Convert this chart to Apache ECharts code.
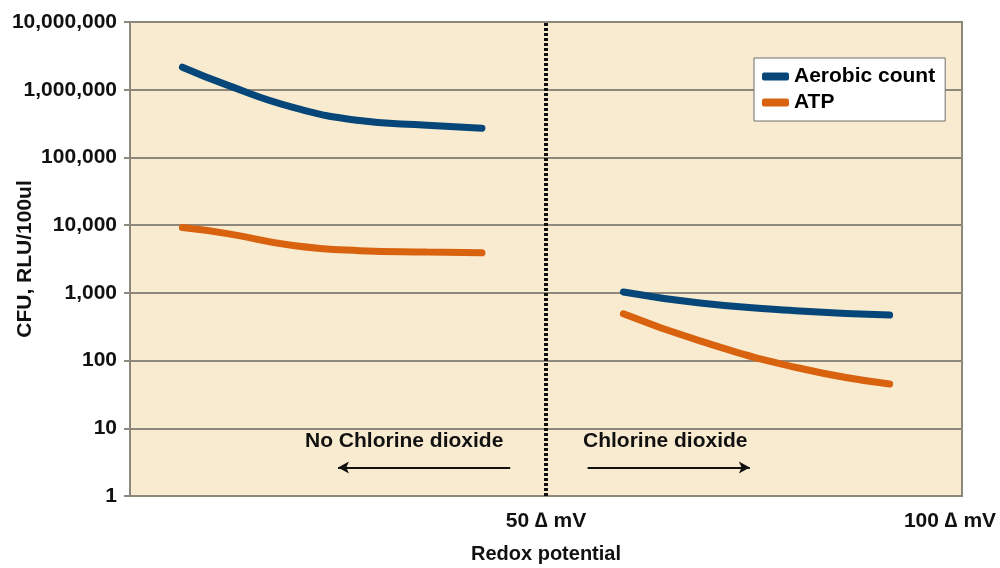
<!DOCTYPE html>
<html>
<head>
<meta charset="utf-8">
<script src="https://cdn.jsdelivr.net/npm/echarts@6/dist/echarts.min.js"></script>
<style>
    html, body { margin: 0; padding: 0; background: #fff; }
    #chart1 { width: 1000px; height: 568px; }
</style>
</head>
<body>
<div id="chart1"></div>
<script>
// data (x = redox potential, y = CFU / RLU)
var aerobicBefore = [[6.3, 2150000], [11.7, 1170000], [19.6, 550000], [27.6, 350000], [35.7, 298000], [42.3, 270000]];
var aerobicAfter = [[59.3, 1030], [68.5, 710], [80.5, 540], [91.3, 470]];
var atpBefore = [[6.3, 9200], [11.7, 7500], [19.6, 5000], [27.6, 4200], [35.7, 4000], [42.3, 3900]];
var atpAfter = [[59.3, 490], [68.5, 195], [80.5, 77], [91.3, 45]];
var xTicks = [50, 100];
var dividerAt = 50;
var arrowLeft = [[45.7, 2.64], [25, 2.64]];
var arrowRight = [[55, 2.64], [74.5, 2.64]];

var blue = '#064679';
var orange = '#D9620F';
var font = 'Liberation Sans, Arial, sans-serif';

drawChart1();

function lineSeries(name, color, data) {
    return {
        name: name,
        type: 'line',
        smooth: true,
        showSymbol: false,
        color: color,
        lineStyle: {
            width: 7,
            cap: 'round',
            color: color
        },
        data: data
    };
}

function drawChart1() {
    var dom1 = document.getElementById("chart1");
    var myChart1 = echarts.init(dom1);
    var arrowStyle = { color: '#111', width: 2, type: 'solid' };
    var s1 = lineSeries('Aerobic count', blue, aerobicBefore);
    var s2 = lineSeries('Aerobic count', blue, aerobicAfter);
    var s3 = lineSeries('ATP', orange, atpBefore);
    var s4 = lineSeries('ATP', orange, atpAfter);
    s1.markLine = {
        silent: true,
        symbol: 'none',
        label: { show: false },
        lineStyle: { color: '#111', width: 4, type: [3, 2] },
        data: [{ xAxis: dividerAt }]
    };
    s4.markLine = {
        silent: true,
        symbolSize: [9, 11],
        label: { show: false },
        lineStyle: arrowStyle,
        data: [
            [{ coord: arrowLeft[0], symbol: 'none' }, { coord: arrowLeft[1], symbol: 'arrow' }],
            [{ coord: arrowRight[0], symbol: 'none' }, { coord: arrowRight[1], symbol: 'arrow' }]
        ]
    };
    var option = {
        animation: false,
        textStyle: { fontFamily: font },
        legend: {
            orient: 'vertical',
            left: 754,
            top: 58,
            padding: [8, 10, 8, 8],
            itemGap: 5,
            itemWidth: 27,
            itemHeight: 8,
            icon: 'roundRect',
            backgroundColor: '#fff',
            borderColor: '#6f6f6f',
            borderWidth: 1,
            textStyle: { fontSize: 21, fontWeight: 'bold', color: '#000', fontFamily: font },
            data: ['Aerobic count', 'ATP']
        },
        grid: {
            left: 130,
            top: 22,
            right: 38,
            bottom: 72,
            containLabel: false,
            outerBoundsMode: 'none',
            show: true,
            backgroundColor: '#F9EBCF',
            borderColor: '#8d877c',
            borderWidth: 2
        },
        xAxis: {
            type: 'value',
            min: 0,
            max: 100,
            name: 'Redox potential',
            nameLocation: 'middle',
            nameGap: 48,
            nameMoveOverlap: false,
            nameTextStyle: { fontSize: 20, fontWeight: 'bold', color: '#111', fontFamily: font },
            axisLine: { show: false },
            axisTick: { show: false },
            splitLine: { show: false },
            axisLabel: {
                customValues: xTicks,
                margin: 15,
                color: '#111',
                fontSize: 21,
                fontWeight: 'bold',
                formatter: function (v) {
                    if (v === 100) {
                        return '{r|' + v + ' \u2206 mV}';
                    }
                    return v + ' \u2206 mV';
                },
                rich: {
                    r: { fontSize: 21, fontWeight: 'bold', color: '#111', padding: [0, 24, 0, 0], fontFamily: font }
                }
            }
        },
        yAxis: {
            type: 'log',
            logBase: 10,
            min: 1,
            max: 10000000,
            name: 'CFU, RLU/100ul',
            nameLocation: 'middle',
            nameGap: 94,
            nameMoveOverlap: false,
            nameTextStyle: { fontSize: 21, fontWeight: 'bold', color: '#111', fontFamily: font },
            axisLine: { show: true, lineStyle: { color: '#8d877c', width: 2 } },
            axisTick: { show: true, length: 6, lineStyle: { color: '#8d877c', width: 2 } },
            splitLine: { show: true, lineStyle: { color: '#8d877c', width: 2 } },
            axisLabel: {
                margin: 13,
                color: '#111',
                fontSize: 21,
                fontWeight: 'bold',
                formatter: function (v) {
                    return Math.round(v).toLocaleString('en-US');
                }
            }
        },
        graphic: [
            {
                type: 'text',
                left: 305,
                top: 431,
                style: { text: 'No Chlorine dioxide', font: 'bold 21px ' + font, fill: '#111' }
            },
            {
                type: 'text',
                left: 583,
                top: 431,
                style: { text: 'Chlorine dioxide', font: 'bold 21px ' + font, fill: '#111' }
            }
        ],
        series: [s1, s2, s3, s4]
    };
    if (option && typeof option === "object") {
        myChart1.setOption(option, true);
        window.onresize = myChart1.resize;
    }
}
</script>
</body>
</html>
